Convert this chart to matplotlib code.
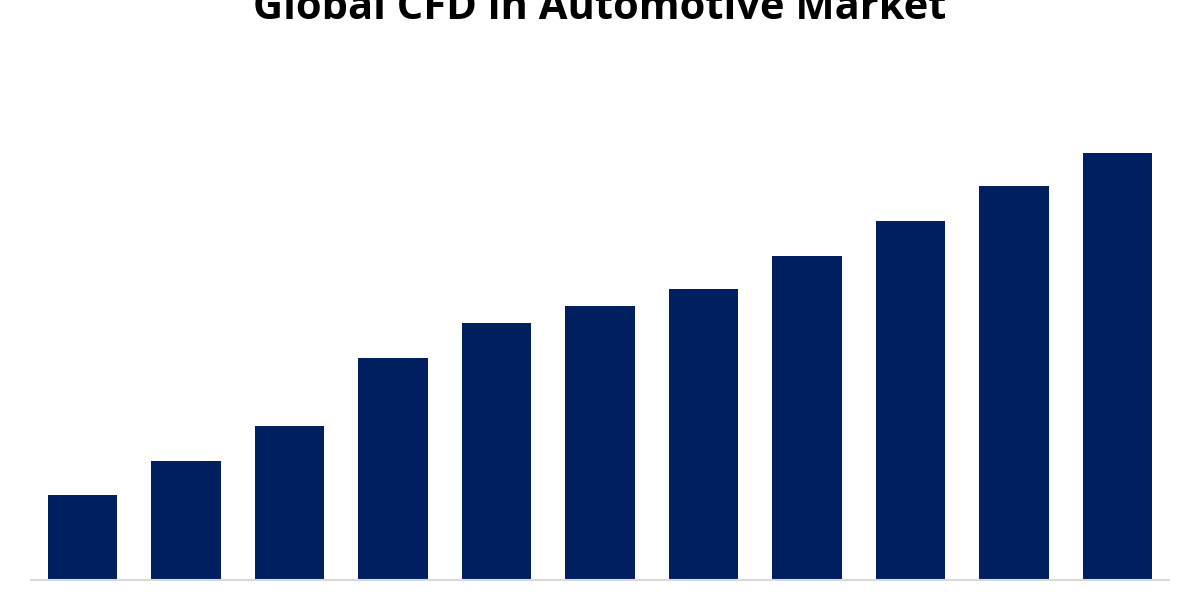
import matplotlib.pyplot as plt
import numpy as np

# bar heights (no axis shown, relative units)
years = [2019, 2020, 2021, 2022, 2023, 2024, 2025, 2026, 2027, 2028, 2029]
values = [85, 119, 154, 222, 257, 274, 291, 324, 359, 394, 427]

fig = plt.figure(figsize=(12, 6), dpi=100)
ax = fig.add_axes([30.75 / 1200, 20 / 600, 1138.5 / 1200, 450 / 600])

x = np.arange(len(years))
ax.bar(x, values, width=0.67, color='#001f5f')
ax.set_xlim(-0.5, len(years) - 0.5)
ax.set_ylim(0, 450)

for s in ['top', 'right', 'left']:
    ax.spines[s].set_visible(False)
ax.spines['bottom'].set_color('#d9d9d9')
ax.spines['bottom'].set_linewidth(1.5)
ax.set_xticks([])
ax.set_yticks([])

# title is partly cut off at the top edge, as in the original
fig.text(0.5, 1 - 19 / 600, 'Global CFD in Automotive Market', ha='center',
         va='baseline', fontsize=30, fontweight='bold', family='Open Sans')

fig.savefig('out.png')
